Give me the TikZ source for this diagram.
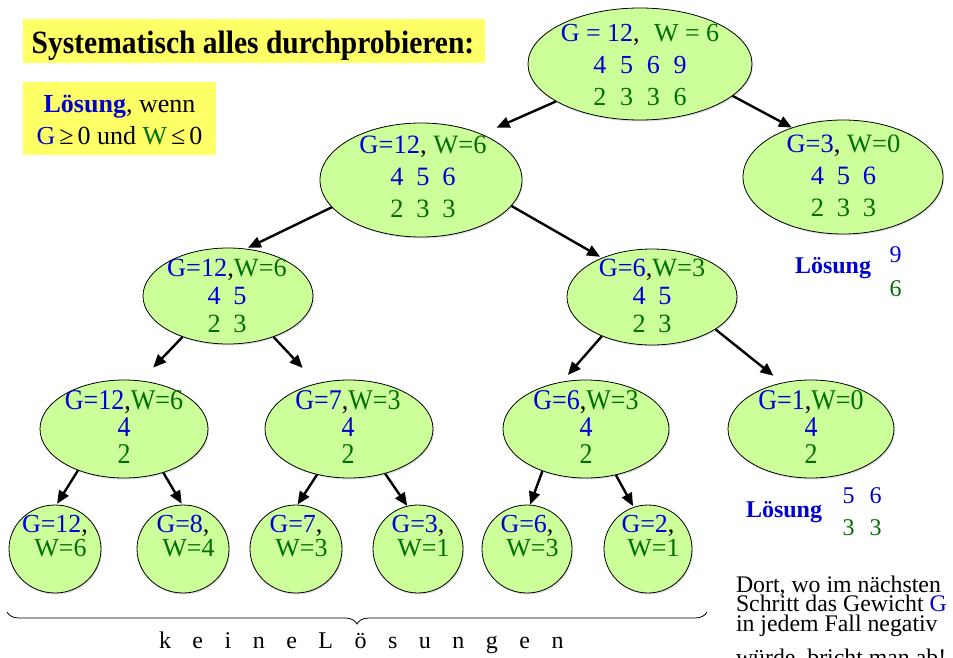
\documentclass[tikz,border=0pt]{standalone}
\usepackage{fontspec}
\setmainfont{Liberation Serif}
\usetikzlibrary{shapes.geometric, arrows.meta, decorations.pathreplacing, shadows}
\definecolor{nodefill}{RGB}{204,255,153}
\definecolor{hlyellow}{RGB}{255,255,102}
\definecolor{tblue}{RGB}{0,0,210}
\definecolor{tgreen}{RGB}{0,110,0}
\newcommand\Bl[1]{\textcolor{tblue}{#1}}
\newcommand\Gn[1]{\textcolor{tgreen}{#1}}
\newcommand\fsz[2]{\fontsize{#1}{#2}\selectfont\lineskiplimit=-100pt\relax}
\newcommand\dgap{\hspace{12.7pt}}
\newcommand\dgapr{\hspace{13.7pt}}
\newcommand\lsp{\hspace{21.5pt}}
\newcommand\tall[1]{\scalebox{1}[1.1]{#1}}
\tikzset{
  ell/.style={ellipse, draw, line width=0.8pt, fill=nodefill, inner sep=0pt,
    drop shadow={shadow xshift=1pt, shadow yshift=-1.5pt, opacity=0.25}},
  txt/.style={inner sep=0pt, outer sep=0pt, align=center},
  arr/.style={line width=2.4pt, -{Triangle[length=13pt,width=11pt]}},
  ybox/.style={fill=hlyellow, inner sep=0pt},
  big/.style={font=\fsz{26.5}{32}},
  mid/.style={font=\fsz{26.3}{28}},
  lvlthree/.style={font=\fsz{26}{27}},
  small/.style={font=\fsz{26}{24}},
}
\begin{document}
\begin{tikzpicture}[x=1pt,y=-1pt]
\useasboundingbox (0,0) rectangle (953,658);
\clip (0,0) rectangle (953,658);

% boxes top left
\node[ybox, minimum width=462pt, minimum height=44pt] (titlebox) at (254,41) {};
\node[txt, anchor=base, font=\bfseries\fsz{29.5}{29.5}] (title) at (253,53.3) {\tall{Systematisch alles durchprobieren:}};
\node[ybox, minimum width=193pt, minimum height=73pt] (condbox) at (119.5,118.5) {};
\node[txt, anchor=north, font=\fsz{26}{32}] (cond) at (119.5,95) {\Bl{\bfseries Lösung}, wenn\\\Bl{G}\hspace{4pt}≥\hspace{4pt}0 und \Gn{W}\hspace{4pt}≤\hspace{4pt}0};

% ellipses
\node[ell, minimum width=224pt, minimum height=112pt] (root) at (640,64) {};
\node[ell, minimum width=200pt, minimum height=114pt] (R) at (843,177) {};
\node[ell, minimum width=202pt, minimum height=114pt] (L1) at (421,180) {};
\node[ell, minimum width=170pt, minimum height=96pt] (L2a) at (228,296) {};
\node[ell, minimum width=170pt, minimum height=96pt] (L2b) at (652,297) {};
\node[ell, minimum width=168pt, minimum height=98pt] (L3a) at (124,429) {};
\node[ell, minimum width=168pt, minimum height=98pt] (L3b) at (349,429) {};
\node[ell, minimum width=166pt, minimum height=98pt] (L3c) at (586,429) {};
\node[ell, minimum width=166pt, minimum height=98pt] (L3d) at (811,429) {};
\node[ell, minimum width=92pt, minimum height=88pt] (L4a) at (55,549) {};
\node[ell, minimum width=92pt, minimum height=88pt] (L4b) at (183,549) {};
\node[ell, minimum width=92pt, minimum height=88pt] (L4c) at (296,549) {};
\node[ell, minimum width=90pt, minimum height=88pt] (L4d) at (418,549) {};
\node[ell, minimum width=90pt, minimum height=88pt] (L4e) at (527,549) {};
\node[ell, minimum width=88pt, minimum height=88pt] (L4f) at (648,549) {};

% ellipse texts
\node[txt, anchor=north, font=\fsz{26}{32}] (rootT) at (640,24.3) {\Bl{G = 12},\hspace{0.55em}\Gn{W = 6}\\\Bl{4\dgapr 5\dgapr 6\dgapr 9}\\\Gn{2\dgapr 3\dgapr 3\dgapr 6}};
\node[txt, anchor=north, big] (RT) at (843.5,135) {\Bl{G=3}, \Gn{W=0}\\\Bl{4\dgap 5\dgap 6}\\\Gn{2\dgap 3\dgap 3}};
\node[txt, anchor=north, big] (L1T) at (423,136) {\Bl{G=12}, \Gn{W=6}\\\Bl{4\dgap 5\dgap 6}\\\Gn{2\dgap 3\dgap 3}};
\node[txt, anchor=north, mid] (L2aT) at (227,259.1) {\Bl{G=12},\Gn{W=6}\\\Bl{4\dgap 5}\\\Gn{2\dgap 3}};
\node[txt, anchor=north, mid] (L2bT) at (652,259.1) {\Bl{G=6},\Gn{W=3}\\\Bl{4\dgap 5}\\\Gn{2\dgap 3}};
\node[txt, anchor=north, lvlthree] (L3aT) at (124,390.6) {\tall{\Bl{G=12},\Gn{W=6}}\\\tall{\Bl{4}}\\\tall{\Gn{2}}};
\node[txt, anchor=north, lvlthree] (L3bT) at (348,390.6) {\tall{\Bl{G=7},\Gn{W=3}}\\\tall{\Bl{4}}\\\tall{\Gn{2}}};
\node[txt, anchor=north, lvlthree] (L3cT) at (586,390.6) {\tall{\Bl{G=6},\Gn{W=3}}\\\tall{\Bl{4}}\\\tall{\Gn{2}}};
\node[txt, anchor=north, lvlthree] (L3dT) at (811,390.6) {\tall{\Bl{G=1},\Gn{W=0}}\\\tall{\Bl{4}}\\\tall{\Gn{2}}};
\node[txt, anchor=north, small] (L4aT) at (55,515.3) {\Bl{G=12},\\\hspace*{11pt}\Gn{W=6}};
\node[txt, anchor=north, small] (L4bT) at (183,515.3) {\Bl{G=8},\\\hspace*{11pt}\Gn{W=4}};
\node[txt, anchor=north, small] (L4cT) at (296,515.3) {\Bl{G=7},\\\hspace*{11pt}\Gn{W=3}};
\node[txt, anchor=north, small] (L4dT) at (418,515.3) {\Bl{G=3},\\\hspace*{11pt}\Gn{W=1}};
\node[txt, anchor=north, small] (L4eT) at (527,515.3) {\Bl{G=6},\\\hspace*{11pt}\Gn{W=3}};
\node[txt, anchor=north, small] (L4fT) at (648,515.3) {\Bl{G=2},\\\hspace*{11pt}\Gn{W=1}};

% arrows
\draw[arr, shorten >=16pt] (root.204) -- (L1.37);
\draw[arr] (root.341) -- (R.136);
\draw[arr, shorten >=2pt] (L1.197) -- (L2a.69);
\draw[arr, shorten >=2pt] (L1.344) -- (L2b.142);
\draw[arr, shorten >=18pt] (L2a.222) -- (L3a.71);
\draw[arr, shorten >=21pt] (L2a.318) -- (L3b.125);
\draw[arr, shorten >=9pt] (L2b.218) -- (L3c.117);
\draw[arr, shorten >=11pt] (L2b.333) -- (L3d.122);
\draw[arr, shorten >=1pt] (L3a.222) -- (L4a.88);
\draw[arr, shorten >=1pt] (L3a.312) -- (L4b.91);
\draw[arr] (L3b.235) -- (L4c.88);
\draw[arr] (L3b.309) -- (L4d.104);
\draw[arr] (L3c.224) -- (L4e.86);
\draw[arr, shorten >=1pt] (L3c.303) -- (L4f.109);

% solutions on the right
\node[txt, anchor=base west, font=\bfseries\fsz{24}{24}, text=tblue] (sol1) at (795,273) {Lösung};
\node[txt, anchor=base, font=\fsz{24}{24}] (sol1a) at (895.5,262) {\Bl{9}};
\node[txt, anchor=base, font=\fsz{24}{24}] (sol1b) at (895.5,296) {\Gn{6}};
\node[txt, anchor=base west, font=\bfseries\fsz{24}{24}, text=tblue] (sol2) at (746,517) {Lösung};
\node[txt, anchor=base, font=\fsz{24}{24}] (sol2a) at (862,503) {\Bl{5\hspace{15pt}6}};
\node[txt, anchor=base, font=\fsz{24}{24}] (sol2b) at (862,535) {\Gn{3\hspace{15pt}3}};

% remark
\node[txt, anchor=north west, align=left, font=\fsz{23.8}{19.8}] (remark) at (736,575.5) {Dort, wo im nächsten\\Schritt das Gewicht \Bl{G}\\in jedem Fall negativ\\[14pt]würde, bricht man ab!};

% brace and caption
\coordinate (braceR) at (707,612);
\coordinate (braceL) at (7,612);
\draw[line width=0.8pt, decorate, decoration={brace, amplitude=12pt}] (braceR) -- (braceL);
\node[txt, anchor=base west, font=\fsz{24}{24}] (keine) at (159,648) {k\lsp e\lsp i\lsp n\lsp e\lsp L\lsp ö\lsp s\lsp u\lsp n\lsp g\lsp e\lsp n};
\end{tikzpicture}
\end{document}
